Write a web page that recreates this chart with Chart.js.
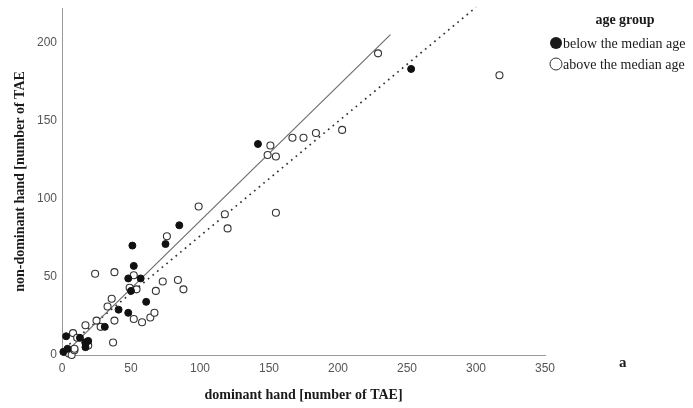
<!DOCTYPE html>
<html>
<head>
<meta charset="utf-8">
<script src="https://cdn.jsdelivr.net/npm/chart.js@4/dist/chart.umd.min.js"></script>
<style>
  body { margin: 0; background: #fff; }
</style>
</head>
<body>
<canvas id="grafica" width="693" height="408"></canvas>
<script>
// Datos
const nombresGrupos = ["below the median age", "above the median age"];
const tituloLeyenda = "age group";

const belowX = [1, 3, 4, 13, 17, 19, 17, 31, 41, 48, 50, 48, 57, 52, 51, 61, 75, 85, 142, 253];
const belowY = [2, 12, 4, 11, 8, 9, 5, 18, 29, 27, 41, 49, 49, 57, 70, 34, 71, 83, 135, 183];

const aboveX = [3, 5, 7, 9, 9, 8, 11, 17, 19, 17, 25, 28, 36, 33, 24, 38, 38, 37, 52, 49, 54, 52, 58, 64, 67, 68, 73, 84, 88, 76, 99, 118, 120, 155, 151, 149, 155, 167, 175, 184, 203, 229, 317];
const aboveY = [2, 1, 0, 3, 4, 14, 11, 8, 6, 19, 22, 18, 36, 31, 52, 53, 22, 8, 51, 43, 42, 23, 21, 24, 27, 41, 47, 48, 42, 76, 95, 90, 81, 91, 134, 128, 127, 139, 139, 142, 144, 193, 179];

// Rectas de ajuste (extremos)
const ajusteBelowX = [2, 238];
const ajusteBelowY = [1, 205];
const ajusteAboveX = [2, 300];
const ajusteAboveY = [4.4, 222.5];

const ticksX = [0, 50, 100, 150, 200, 250, 300, 350];
const ticksY = [0, 50, 100, 150, 200];

const puntos = (xs, ys) => xs.map((x, i) => ({ x: x, y: ys[i] }));

const leyenda = {
  id: "leyenda",
  afterDraw(chart) {
    const ctx = chart.ctx;
    ctx.save();
    ctx.fillStyle = "#1a1a1a";
    ctx.textBaseline = "middle";
    ctx.font = 'bold 14px "Liberation Serif"';
    ctx.textAlign = "center";
    ctx.fillText(tituloLeyenda, 625, 20);
    ctx.font = '14px "Liberation Serif"';
    ctx.textAlign = "left";
    // marcador relleno
    ctx.beginPath();
    ctx.arc(556, 43, 6, 0, Math.PI * 2);
    ctx.fill();
    ctx.fillText(nombresGrupos[0], 563, 44);
    // marcador vacío
    ctx.beginPath();
    ctx.arc(556, 64, 6, 0, Math.PI * 2);
    ctx.lineWidth = 1;
    ctx.strokeStyle = "#333";
    ctx.stroke();
    ctx.fillText(nombresGrupos[1], 563, 65);
    // etiqueta del panel
    ctx.font = 'bold 15px "Liberation Serif"';
    ctx.fillText("a", 619, 363);
    ctx.restore();
  }
};

const ctx = document.getElementById("grafica").getContext("2d");
new Chart(ctx, {
  type: "scatter",
  data: {
    datasets: [
      {
        label: nombresGrupos[0],
        data: puntos(belowX, belowY),
        backgroundColor: "#111",
        borderColor: "#111",
        borderWidth: 1,
        pointRadius: 3.5,
        clip: false,
        order: 0
      },
      {
        label: nombresGrupos[1],
        data: puntos(aboveX, aboveY),
        backgroundColor: "#fff",
        borderColor: "#333",
        borderWidth: 1.1,
        pointRadius: 3.5,
        clip: false,
        order: 0
      },
      {
        label: "fit below",
        data: puntos(ajusteBelowX, ajusteBelowY),
        showLine: true,
        borderColor: "#6e6e6e",
        borderWidth: 1.2,
        pointRadius: 0,
        order: 1
      },
      {
        label: "fit above",
        data: puntos(ajusteAboveX, ajusteAboveY),
        showLine: true,
        borderColor: "#333",
        borderWidth: 1.7,
        borderDash: [1.7, 4.3],
        pointRadius: 0,
        clip: false,
        order: 1
      }
    ]
  },
  options: {
    responsive: false,
    animation: false,
    devicePixelRatio: 1,
    layout: { padding: { top: 8, right: 148, left: 0, bottom: 0 } },
    plugins: {
      legend: { display: false },
      tooltip: { enabled: false }
    },
    scales: {
      x: {
        type: "linear",
        min: 0,
        max: 350,
        afterBuildTicks: (s) => { s.ticks = ticksX.map(v => ({ value: v })); },
        afterFit: (s) => { s.height = 53; },
        grid: { display: false, drawTicks: false },
        border: { display: true, color: "#999", width: 1 },
        ticks: { color: "#555", font: { family: "Liberation Sans", size: 12 }, padding: 6, maxRotation: 0 },
        title: {
          display: true,
          text: "dominant hand [number of TAE]",
          color: "#1a1a1a",
          font: { family: "Liberation Serif", size: 14, weight: "bold" },
          padding: { top: 0, bottom: 4 }
        }
      },
      y: {
        type: "linear",
        min: 0,
        max: 222,
        afterBuildTicks: (s) => { s.ticks = ticksY.map(v => ({ value: v })); },
        afterFit: (s) => { s.width = 62; s.paddingTop = 0; },
        grid: { display: false, drawTicks: false },
        border: { display: true, color: "#999", width: 1 },
        ticks: { color: "#555", font: { family: "Liberation Sans", size: 12 }, padding: 5 },
        title: {
          display: true,
          text: "non-dominant hand [number of TAE",
          color: "#1a1a1a",
          font: { family: "Liberation Serif", size: 14, weight: "bold" },
          padding: { top: 12, bottom: 0 }
        }
      }
    }
  },
  plugins: [leyenda]
});
</script>
</body>
</html>
